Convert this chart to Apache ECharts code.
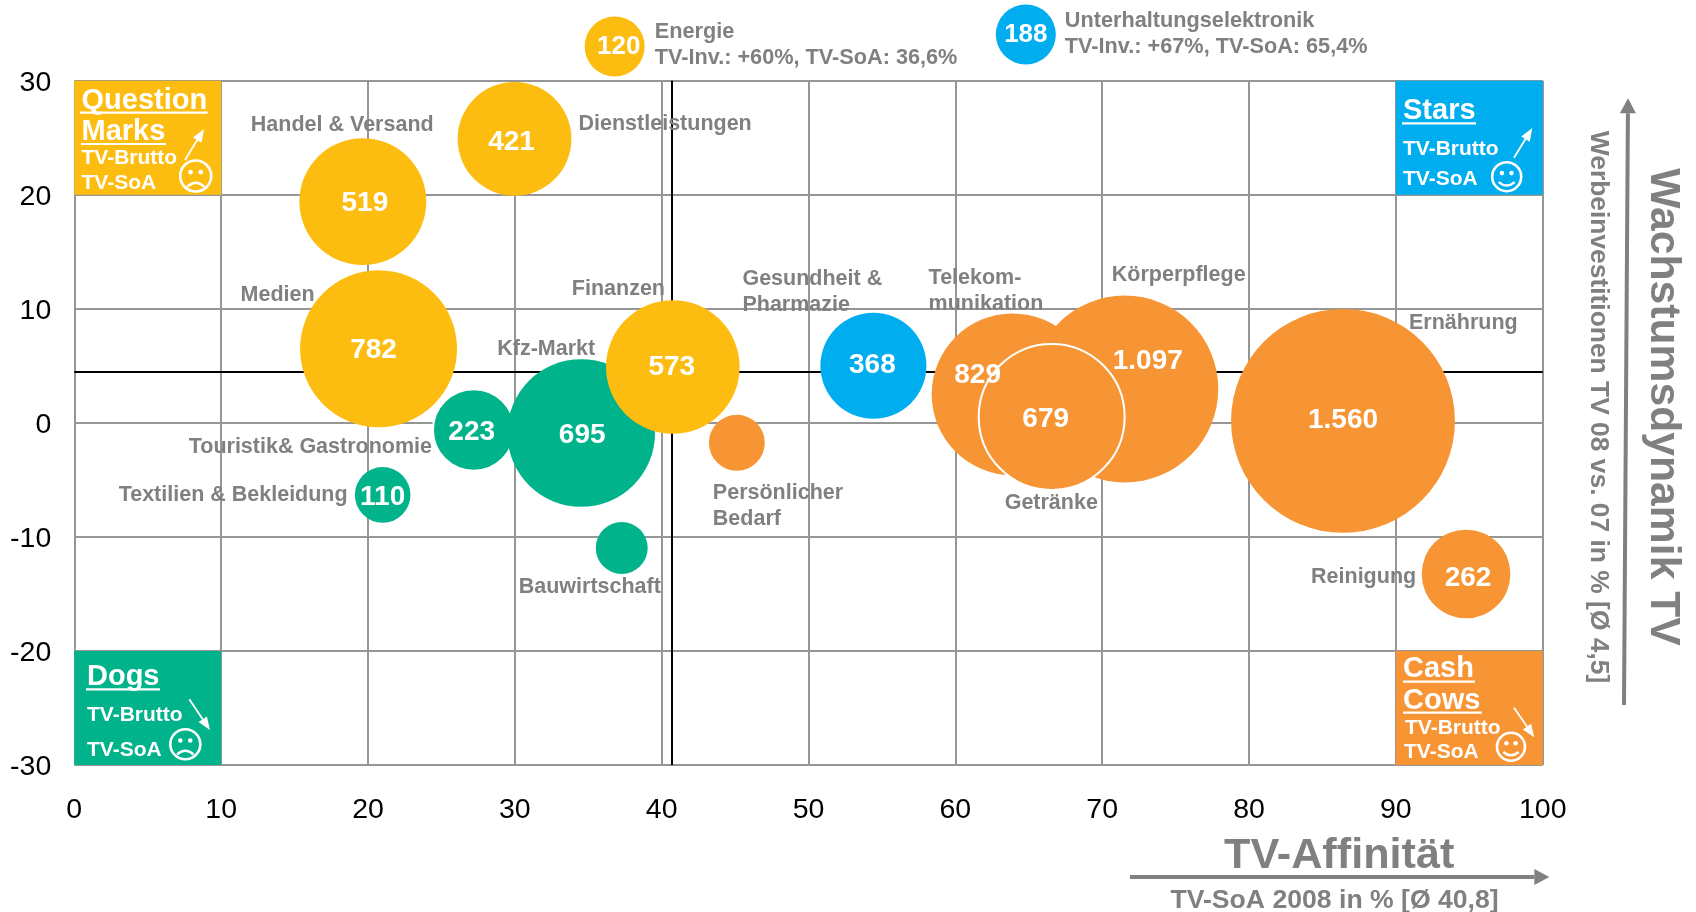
<!DOCTYPE html>
<html>
<head>
<meta charset="utf-8">
<style>
  html, body { margin: 0; padding: 0; background: #fff; }
  #chart { width: 1696px; height: 912px; }
</style>
<script src="https://cdn.jsdelivr.net/npm/echarts@6/dist/echarts.min.js"></script>
</head>
<body>
<div id="chart"></div>
<script>
// data
var names = [
  "Handel & Versand", "Dienstleistungen", "Medien", "Finanzen",
  "Textilien & Bekleidung", "Touristik& Gastronomie", "Kfz-Markt", "Bauwirtschaft",
  "Gesundheit &\nPharmazie",
  "Persönlicher\nBedarf", "Telekom-\nmunikation", "Körperpflege", "Getränke", "Ernährung", "Reinigung"
];
var tvSoa = [19.65, 29.98, 20.72, 40.76, 21.0, 27.2, 34.52, 37.28, 54.42, 45.12, 63.9, 71.54, 66.56, 86.4, 94.78];
var growth = [19.4, 24.9, 6.5, 4.9, -6.32, -0.62, -0.89, -10.97, 5.0, -1.75, 2.5, 2.97, 0.52, 0.17, -13.25];
var volume = [519, 421, 782, 573, 110, 223, 695, 97, 368, 111, 829, 1097, 679, 1560, 262];
var quadrant = ["qm", "qm", "qm", "qm", "dogs", "dogs", "dogs", "dogs", "stars", "cows", "cows", "cows", "cows", "cows", "cows"];

// the two off-scale branches above the plot
var calloutNames = ["Energie\nTV-Inv.: +60%, TV-SoA: 36,6%", "Unterhaltungselektronik\nTV-Inv.: +67%, TV-SoA: 65,4%"];
var calloutSoa = [36.8, 64.8];
var calloutGrowth = [33.0, 34.05];
var calloutVolume = [120, 188];
var calloutQuadrant = ["qm", "stars"];

var xTicks = [0, 10, 20, 30, 40, 50, 60, 70, 80, 90, 100];
var yTicks = [-30, -20, -10, 0, 10, 20, 30];
var meanSoa = 40.7;
var meanGrowth = 4.5;

var colors = { qm: "#FDBD10", stars: "#00AEEF", dogs: "#00B38A", cows: "#F79433" };
var GRAY = "#808080";
var FONT = "'Liberation Sans', Arial, sans-serif";

// name label position relative to bubble centre, px
var nameOffset = {
  "Handel & Versand": [-112, -77],
  "Dienstleistungen": [64, -15],
  "Medien": [-138, -54],
  "Finanzen": [-101, -78],
  "Textilien & Bekleidung": [-264, 0],
  "Touristik& Gastronomie": [-285, 17],
  "Kfz-Markt": [-84, -84],
  "Bauwirtschaft": [-103, 39],
  "Gesundheit &\nPharmazie": [-131, -74],
  "Persönlicher\nBedarf": [-24, 63],
  "Telekom-\nmunikation": [-84, -103],
  "Körperpflege": [-13, -114],
  "Getränke": [-47, 86],
  "Ernährung": [66, -98],
  "Reinigung": [-155, 3],
  "Energie\nTV-Inv.: +60%, TV-SoA: 36,6%": [40, -1],
  "Unterhaltungselektronik\nTV-Inv.: +67%, TV-SoA: 65,4%": [39, 0]
};
var valueOffset = {
  829: [-35, -19], 1097: [23, -28], 782: [-5, 2], 679: [-6, 2], 368: [-1, -1],
  573: [-1, 0], 421: [-3, 3], 1560: [0, -1], 262: [2, 4], 223: [-2, 2],
  519: [2, 2], 695: [1, 2], 110: [0, 2], 120: [4, 0], 188: [0, 0]
};
var noValueLabel = ["Bauwirtschaft", "Persönlicher\nBedarf"];
var outlined = ["Touristik& Gastronomie", "Getränke"];

function bubbleSize(v) {
  return 2 * (2.9 * Math.sqrt(v) - 2.6);
}
function germanNumber(v) {
  return String(v).replace(/\B(?=(\d{3})+$)/g, ".");
}

function bubbleSeries(key) {
  var data = [];
  names.forEach(function (n, i) {
    if (quadrant[i] !== key) return;
    var item = { name: n, value: [tvSoa[i], growth[i], volume[i]] };
    if (outlined.indexOf(n) >= 0) item.itemStyle = { borderColor: "#fff", borderWidth: 2 };
    data.push(item);
  });
  return {
    type: "scatter", z: 3, clip: false, silent: true,
    symbolSize: function (val) { return bubbleSize(val[2]); },
    itemStyle: { color: colors[key], opacity: 1 },
    data: data
  };
}

// all texts on top of the bubbles, anchored on the same data points
var allPoints = [];
names.forEach(function (n, i) {
  allPoints.push({ name: n, x: tvSoa[i], y: growth[i], v: volume[i], callout: false });
});
calloutNames.forEach(function (n, i) {
  allPoints.push({ name: n, x: calloutSoa[i], y: calloutGrowth[i], v: calloutVolume[i], callout: true });
});

var anchorStyle = { color: "rgba(0,0,0,0)", opacity: 1 };

var nameSeries = {
  type: "scatter", z: 5, clip: false, silent: true,
  symbolSize: 2, itemStyle: anchorStyle,
  data: allPoints.map(function (p) {
    return {
      name: p.name,
      value: [p.x, p.y],
      label: {
        show: true, position: "inside", align: "left", verticalAlign: "middle",
        offset: nameOffset[p.name], formatter: p.name, opacity: 1,
        color: GRAY, fontFamily: FONT, fontWeight: "bold", fontSize: p.callout ? 21.7 : 21.5, lineHeight: 26
      }
    };
  })
};

var valueSeries = {
  type: "scatter", z: 6, clip: false, silent: true,
  symbolSize: 2, itemStyle: anchorStyle,
  data: allPoints.filter(function (p) {
    return noValueLabel.indexOf(p.name) < 0;
  }).map(function (p) {
    return {
      name: p.name,
      value: [p.x, p.y],
      label: {
        show: true, position: "inside", align: "center", verticalAlign: "middle",
        offset: valueOffset[p.v] || [0, 0], formatter: germanNumber(p.v), opacity: 1,
        color: "#fff", fontFamily: FONT, fontWeight: "bold", fontSize: p.callout ? 26 : 28
      }
    };
  })
};

var calloutSeries = {
  type: "scatter", z: 3, clip: false, silent: true,
  symbolSize: 60,
  data: calloutNames.map(function (n, i) {
    return { name: n, value: [calloutSoa[i], calloutGrowth[i]], itemStyle: { color: colors[calloutQuadrant[i]], opacity: 1 } };
  })
};

// quadrant boxes and the two mean lines live on an empty series
var frameSeries = {
  type: "scatter", z: 1, silent: true, data: [],
  markArea: {
    silent: true, z: 1,
    data: [
      [{ coord: [0, 20], itemStyle: { color: colors.qm } }, { coord: [10, 30] }],
      [{ coord: [90, 20], itemStyle: { color: colors.stars } }, { coord: [100, 30] }],
      [{ coord: [0, -30], itemStyle: { color: colors.dogs } }, { coord: [10, -20] }],
      [{ coord: [90, -30], itemStyle: { color: colors.cows } }, { coord: [100, -20] }]
    ]
  },
  markLine: {
    silent: true, symbol: "none", animation: false, z: 2,
    label: { show: false },
    lineStyle: { color: "#000", width: 2, type: "solid" },
    data: [{ xAxis: meanSoa }, { yAxis: meanGrowth }]
  }
};

// ---- decorations, plain graphic elements
function text(x, baseline, str, size, color) {
  return {
    type: "text", x: x, y: baseline - size * 0.25, z: 20, silent: true,
    style: {
      text: str, fill: color || "#fff", align: "left", verticalAlign: "middle",
      font: "bold " + size + "px " + FONT
    }
  };
}
function line(x1, y1, x2, y2, width, color) {
  return {
    type: "line", z: 20, silent: true,
    shape: { x1: x1, y1: y1, x2: x2, y2: y2 },
    style: { stroke: color || "#fff", lineWidth: width }
  };
}
function arrow(x1, y1, x2, y2, width, headLen, headHalf, color) {
  var c = color || "#fff";
  var dx = x2 - x1, dy = y2 - y1, len = Math.sqrt(dx * dx + dy * dy);
  var ux = dx / len, uy = dy / len;
  var bx = x2 - ux * headLen, by = y2 - uy * headLen;
  return [
    line(x1, y1, bx, by, width, c),
    {
      type: "polygon", z: 20, silent: true,
      shape: { points: [[x2, y2], [bx - uy * headHalf, by + ux * headHalf], [bx + uy * headHalf, by - ux * headHalf]] },
      style: { fill: c }
    }
  ];
}
function face(cx, cy, r, happy) {
  var my = happy ? 0.38 : 0.68, cp = happy ? 0.85 : 0.18;
  return [
    { type: "circle", z: 20, silent: true, shape: { cx: cx, cy: cy, r: r }, style: { fill: "none", stroke: "#fff", lineWidth: 2.6 } },
    { type: "circle", z: 20, silent: true, shape: { cx: cx - r * 0.33, cy: cy - r * 0.25, r: 2.3 }, style: { fill: "#fff" } },
    { type: "circle", z: 20, silent: true, shape: { cx: cx + r * 0.33, cy: cy - r * 0.25, r: 2.3 }, style: { fill: "#fff" } },
    {
      type: "bezierCurve", z: 20, silent: true,
      shape: { x1: cx - r * 0.55, y1: cy + r * my, x2: cx + r * 0.55, y2: cy + r * my, cpx1: cx, cpy1: cy + r * cp },
      style: { fill: "none", stroke: "#fff", lineWidth: 2.4 }
    }
  ];
}
function rotatedText(x, y, str, size) {
  return {
    type: "text", x: x, y: y, rotation: -Math.PI / 2, z: 20, silent: true,
    style: { text: str, fill: GRAY, align: "center", verticalAlign: "middle", font: "bold " + size + "px " + FONT }
  };
}

var decor = [].concat(
  // Question Marks
  [text(81.5, 108, "Question", 29), line(80, 112.7, 207.7, 112.7, 2.2),
   text(81.5, 139, "Marks", 29), line(81, 144, 166, 144, 2.2),
   text(81.5, 163.2, "TV-Brutto", 21), text(81.5, 188.3, "TV-SoA", 21)],
  arrow(185, 160, 204, 129, 1.8, 13, 5),
  face(195.7, 176, 15.5, false),
  // Stars
  [text(1403, 118.3, "Stars", 29), line(1402, 123.3, 1476, 123.3, 2.2),
   text(1403, 154.7, "TV-Brutto", 21), text(1403, 184, "TV-SoA", 21)],
  arrow(1514, 157.7, 1532.3, 128, 1.8, 13, 5),
  face(1506.7, 176.7, 14.5, true),
  // Dogs
  [text(87, 684.3, "Dogs", 29), line(86, 689.3, 160, 689.3, 2.2),
   text(87, 720.7, "TV-Brutto", 21), text(87, 755.7, "TV-SoA", 21)],
  arrow(189.3, 699.3, 210, 730, 1.8, 13, 5),
  face(185.3, 744.3, 15, false),
  // Cash Cows
  [text(1403, 676.7, "Cash", 29), line(1403, 681.7, 1475, 681.7, 2.2),
   text(1403, 708.7, "Cows", 29), line(1403, 712.7, 1481.7, 712.7, 2.2),
   text(1405, 733, "TV-Brutto", 21), text(1404, 757.7, "TV-SoA", 21)],
  arrow(1514, 707.7, 1534.3, 737.3, 1.8, 13, 5),
  face(1511, 746.7, 14, true),
  // axis captions
  [text(1224, 867.3, "TV-Affinität", 43.2, GRAY), text(1170.5, 907.3, "TV-SoA 2008 in % [Ø 40,8]", 26.6, GRAY)],
  arrow(1130, 877, 1549.3, 877, 4, 15, 8, GRAY),
  arrow(1624, 705, 1628, 98.3, 4, 15, 8, GRAY),
  [rotatedText(1598.5, 407, "Werbeinvestitionen TV 08 vs. 07 in % [Ø 4,5]", 26.4),
   rotatedText(1663, 407, "Wachstumsdynamik TV", 42.7)]
);

var chart = echarts.init(document.getElementById("chart"));
chart.setOption({
  animation: false,
  backgroundColor: "#fff",
  grid: { left: 74.3, top: 80.7, width: 1468.4, height: 684.3, containLabel: false },
  xAxis: {
    type: "value", min: xTicks[0], max: xTicks[xTicks.length - 1], interval: 10,
    axisLine: { show: false }, axisTick: { show: false },
    splitLine: { show: true, lineStyle: { color: "#969696", width: 2 } },
    axisLabel: { color: "#000", fontFamily: FONT, fontSize: 28.5, margin: 31 }
  },
  yAxis: {
    type: "value", min: yTicks[0], max: yTicks[yTicks.length - 1], interval: 10,
    axisLine: { show: false }, axisTick: { show: false },
    splitLine: { show: true, lineStyle: { color: "#969696", width: 2 } },
    axisLabel: { color: "#000", fontFamily: FONT, fontSize: 28.5, margin: 23, verticalAlign: "top", lineHeight: 5 }
  },
  series: [
    frameSeries,
    bubbleSeries("dogs"),
    bubbleSeries("qm"),
    bubbleSeries("cows"),
    bubbleSeries("stars"),
    calloutSeries,
    nameSeries,
    valueSeries
  ],
  graphic: { elements: decor }
});
</script>
</body>
</html>
